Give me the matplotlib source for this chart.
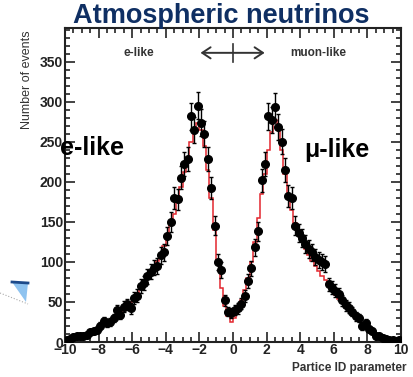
import numpy as np
from matplotlib import pyplot as plt
from matplotlib.ticker import MultipleLocator
from matplotlib.patches import Polygon, FancyArrowPatch
from matplotlib.lines import Line2D

plt.rcParams['font.family'] = ['Liberation Sans', 'DejaVu Sans']
plt.rcParams['font.weight'] = 'bold'

# bin edges of the PID histogram
edges = np.linspace(-10, 10, 101)
centers = 0.5 * (edges[:-1] + edges[1:])

# observed events (black points)
data = [2, 4, 6, 7, 8, 7, 9, 12, 14, 15,
        20, 26, 24, 25, 30, 40, 34, 44, 47, 42,
        55, 58, 70, 74, 82, 88, 93, 95, 108, 112,
        132, 150, 180, 178, 205, 222, 228, 282, 265, 295,
        274, 260, 228, 192, 145, 100, 90, 52, 38, 36,
        40, 42, 48, 57, 76, 92, 118, 138, 202, 222,
        282, 277, 294, 268, 250, 215, 182, 180, 145, 136,
        130, 122, 116, 112, 106, 102, 100, 97, 72, 68,
        64, 60, 52, 46, 43, 38, 32, 30, 20, 24,
        16, 14, 8, 7, 5, 4, 3, 2, 1, 2]

# MC expectation (red histogram)
mc = [3, 4, 5, 6, 7, 8, 10, 11, 13, 15,
      18, 21, 23, 26, 30, 33, 37, 41, 45, 50,
      55, 60, 66, 72, 79, 86, 93, 101, 110, 120,
      132, 146, 160, 176, 194, 212, 230, 250, 264, 274,
      265, 245, 215, 180, 140, 100, 68, 45, 32, 25,
      30, 40, 52, 65, 80, 100, 125, 155, 185, 210,
      240, 262, 277, 265, 240, 210, 185, 165, 148, 135,
      125, 116, 108, 101, 95, 89, 83, 77, 71, 65,
      59, 54, 49, 44, 39, 34, 30, 26, 22, 19,
      15, 12, 9, 7, 5, 4, 3, 2, 2, 1]

data = np.array(data, dtype=float)
mc = np.array(mc, dtype=float)

fig = plt.figure(figsize=(4.14, 3.77), dpi=100)
ax = fig.add_axes([65 / 414, 1 - 342 / 377, 336 / 414, 314 / 377])

ax.stairs(mc, edges, color='#e3262e', lw=1.1, zorder=2)
ax.errorbar(centers, data, yerr=np.sqrt(data), fmt='o', color='black',
            ms=5.5, elinewidth=1, capsize=1.2, zorder=3)

ax.set_xlim(-10, 10)
ax.set_ylim(0, 392)
ax.xaxis.set_major_locator(MultipleLocator(2))
ax.xaxis.set_minor_locator(MultipleLocator(0.5))
ax.yaxis.set_major_locator(MultipleLocator(50))
ax.yaxis.set_minor_locator(MultipleLocator(10))
ax.tick_params(which='both', direction='in', top=True, right=True,
               color='#222222', width=1.2)
ax.tick_params(which='major', length=7, labelsize=10, pad=1.5,
               labelcolor='#222222')
ax.tick_params(which='minor', length=3.5)
ax.tick_params(axis='x', pad=0.5)
for s in ax.spines.values():
    s.set_linewidth(1.5)
    s.set_color('#222222')

ax.set_ylabel('Number of events', fontsize=9, color='#333333')
ax.yaxis.set_label_coords(-0.095, 0.834)
fig.text(407 / 414, 1 - 368 / 377, 'Partice ID parameter', ha='right',
         va='center', fontsize=8.5, color='#333333')

fig.text(221 / 414, 1 - 16 / 377, 'Atmospheric neutrinos', ha='center',
         va='center', fontsize=19.5, color='#0f2f63')

ax.text(-5.6, 361, 'e-like', ha='center', va='center', fontsize=8.5,
        color='#333333')
ax.text(5.05, 361, 'muon-like', ha='center', va='center', fontsize=8.5,
        color='#333333')
ax.add_patch(FancyArrowPatch((-2.1, 361), (2.05, 361), arrowstyle='<->,head_length=6,head_width=4',
                             color='#333333', lw=1.4, mutation_scale=1))
ax.plot([0, 0], [350, 372], color='#333333', lw=1.2)

fig.text(92 / 414, 1 - 148 / 377, 'e-like', ha='center', va='center',
         fontsize=18, color='black')
fig.text(337 / 414, 1 - 150 / 377, 'μ-like', ha='center', va='center',
         fontsize=18, color='black')

# slide decoration at the left edge
fig.add_artist(Polygon([[12 / 414, 1 - 282 / 377], [28 / 414, 1 - 283 / 377],
                        [26 / 414, 1 - 302 / 377]], closed=True,
                       transform=fig.transFigure, facecolor='#8ec3f0',
                       edgecolor='none'))
fig.add_artist(Line2D([12 / 414, 28 / 414], [1 - 282 / 377, 1 - 283 / 377],
                      transform=fig.transFigure, color='#1c4a8a', lw=2))
fig.add_artist(Line2D([0, 28 / 414], [1 - 293 / 377, 1 - 304 / 377],
                      transform=fig.transFigure, color='#aaaaaa', lw=0.8,
                      ls=':'))

fig.savefig('out.png', dpi=100)
